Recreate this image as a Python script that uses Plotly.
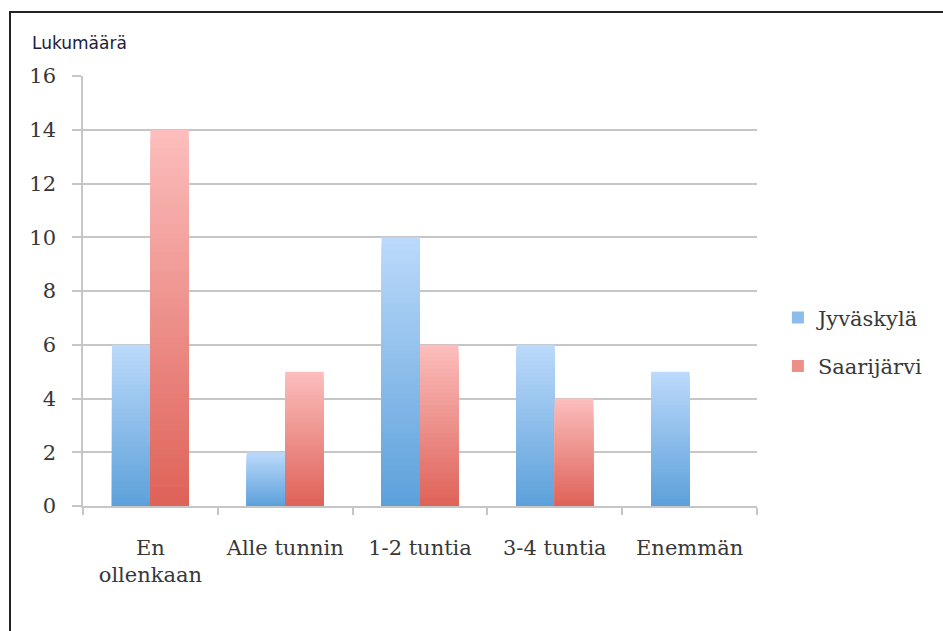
import plotly.graph_objects as go

# Survey answers: number of respondents per time category
categories = ["En<br>ollenkaan", "Alle tunnin", "1-2 tuntia", "3-4 tuntia", "Enemmän"]
jyvaskyla = [6, 2, 10, 6, 5]
saarijarvi = [14, 5, 6, 4, 0]
y_ticks = [0, 2, 4, 6, 8, 10, 12, 14, 16]
y_title = "Lukumäärä"

# bar gradient end colours (bottom, top)
series = [
    ("Jyväskylä", jyvaskyla, "J", (92, 160, 218), (188, 218, 251)),
    ("Saarijärvi", saarijarvi, "S", (222, 98, 88), (252, 190, 189)),
]

STEPS = 40
GRID = "#c6c6c6"
TEXT = "#383838"
SERIF = "DejaVu Serif"
FONT_SIZE = 21


def mix(c1, c2, t):
    return "rgb({},{},{})".format(*[round(a + (b - a) * t) for a, b in zip(c1, c2)])


fig = go.Figure()

# Each bar is drawn as a set of overlapping bars of decreasing height,
# lightest (full height) first, darker shorter ones on top -> vertical gradient.
for name, values, group, bottom, top in series:
    for k in range(STEPS):
        frac = 1 - k / STEPS
        color = mix(bottom, top, max(frac - 0.5 / STEPS, 0))
        fig.add_bar(
            x=categories,
            y=[v * frac for v in values],
            offsetgroup=group,
            name=name,
            legendgroup=name,
            showlegend=(k == STEPS // 2),
            marker=dict(color=color, line=dict(width=0)),
            hoverinfo="skip",
        )

fig.update_layout(
    width=943,
    height=631,
    margin=dict(l=83, r=186, t=76, b=125),
    paper_bgcolor="white",
    plot_bgcolor="white",
    barmode="group",
    bargap=0.43,
    bargroupgap=0,
    legend=dict(
        x=1.031,
        y=0.485,
        xanchor="left",
        yanchor="top",
        traceorder="grouped",
        tracegroupgap=18,
        font=dict(family=SERIF, size=FONT_SIZE, color=TEXT),
        bgcolor="rgba(0,0,0,0)",
    ),
    xaxis=dict(
        type="category",
        showline=True,
        linecolor=GRID,
        linewidth=1.5,
        ticks="outside",
        tickson="boundaries",
        ticklen=7,
        tickcolor=GRID,
        tickwidth=1.5,
        showgrid=False,
        tickfont=dict(family=SERIF, size=FONT_SIZE, color=TEXT),
        ticklabelstandoff=22,
    ),
    yaxis=dict(
        range=[0, 16],
        tickvals=y_ticks,
        showgrid=True,
        gridcolor=GRID,
        gridwidth=1.5,
        showline=True,
        linecolor=GRID,
        linewidth=1.5,
        ticks="outside",
        ticklen=9,
        tickcolor=GRID,
        tickwidth=1.5,
        zeroline=False,
        tickfont=dict(family=SERIF, size=FONT_SIZE, color=TEXT),
        ticklabelstandoff=12,
    ),
    annotations=[
        dict(
            text=y_title,
            xref="paper",
            yref="paper",
            x=(30 - 83) / 674,
            y=(506 - 43) / 430,
            xanchor="left",
            yanchor="middle",
            showarrow=False,
            font=dict(family="DejaVu Sans", size=17, color="#1c1c3c"),
        )
    ],
    shapes=[
        dict(
            type="rect",
            xref="paper",
            yref="paper",
            x0=(10 - 83) / 674,
            x1=(960 - 83) / 674,
            y0=(506 - 650) / 430,
            y1=(506 - 12) / 430,
            line=dict(color="#222222", width=2),
            fillcolor="rgba(0,0,0,0)",
            layer="below",
        )
    ],
)

fig.write_html("out.html")
